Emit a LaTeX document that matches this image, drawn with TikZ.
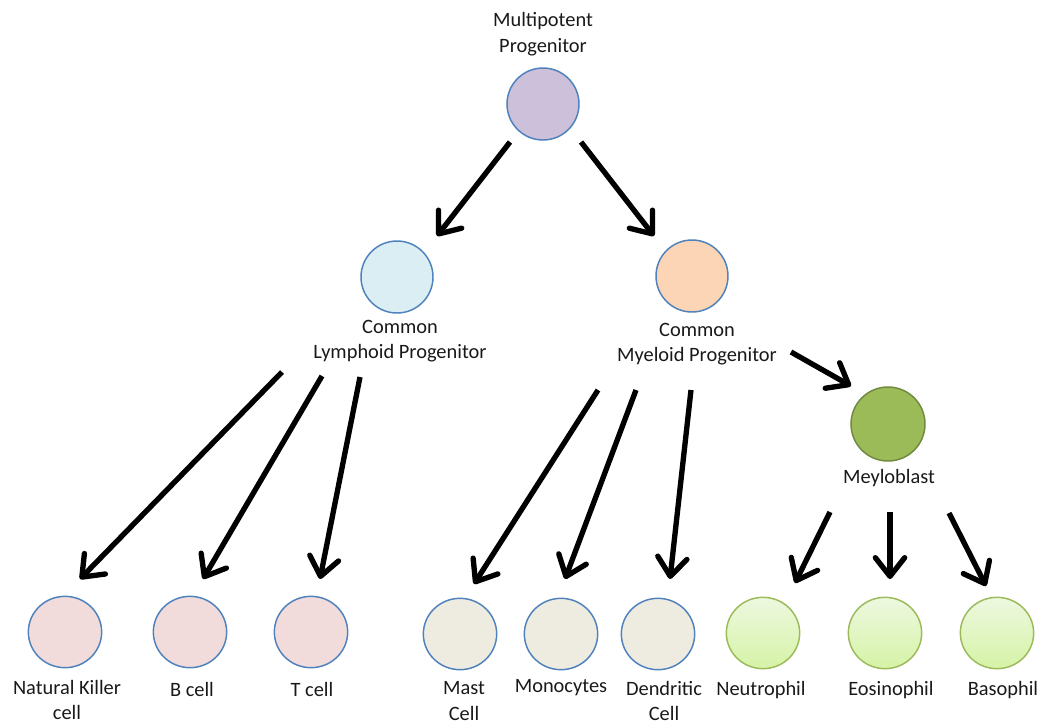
\documentclass[tikz,border=0pt]{standalone}
\usepackage{fontspec}
\setmainfont{Carlito}
\usetikzlibrary{arrows.meta,shapes.geometric}
\definecolor{bordblue}{HTML}{4F81BD}
\definecolor{purp}{HTML}{CCC0DA}
\definecolor{lblue}{HTML}{DBEEF4}
\definecolor{lorange}{HTML}{FBD5B5}
\definecolor{mgreen}{HTML}{9BBB59}
\definecolor{dgreen}{HTML}{71893F}
\definecolor{lpink}{HTML}{F2DCDB}
\definecolor{lbeige}{HTML}{EEECE1}
\definecolor{gtop}{HTML}{EEF8E0}
\definecolor{gbot}{HTML}{D5F3A6}
\tikzset{
  cell/.style={ellipse, draw=bordblue, line width=1.1pt, minimum width=55pt, minimum height=53.5pt, inner sep=0pt},
  greencell/.style={cell, draw=mgreen, top color=gtop, bottom color=gbot},
  lbl/.style={font=\fontsize{15.3pt}{19pt}\selectfont, align=center, inner sep=0pt, text=black!90},
  arr/.style={line width=4pt, -{Straight Barb[round, length=14pt, width=22pt]}}
}
\begin{document}
\begin{tikzpicture}[x=0.75pt, y=-0.75pt]
\useasboundingbox (0,0) rectangle (1046,726);
% circles
\node[cell, fill=purp, minimum width=54pt, minimum height=54pt] (multi) at (543,104) {};
\node[cell, fill=lblue, minimum width=54pt, minimum height=54pt] (clp) at (397,277) {};
\node[cell, fill=lorange, minimum width=54pt, minimum height=54pt] (cmp) at (692,276) {};
\node[cell, fill=mgreen, draw=dgreen, minimum width=55.5pt, minimum height=55.5pt] (mb) at (888,424) {};
\node[cell, fill=lpink] (nk) at (65,632) {};
\node[cell, fill=lpink] (bc) at (190,632) {};
\node[cell, fill=lpink] (tc) at (311,632) {};
\node[cell, fill=lbeige] (mast) at (460,634) {};
\node[cell, fill=lbeige] (mono) at (561,634) {};
\node[cell, fill=lbeige] (dend) at (658,634) {};
\node[greencell] (neut) at (763,633) {};
\node[greencell] (eos) at (885,633) {};
\node[greencell] (baso) at (997,633) {};
% labels
\node[lbl] (multil) at (543,34) {Multipotent\\Progenitor};
\node[lbl] (clpl) at (400,341) {Common\\Lymphoid Progenitor};
\node[lbl] (cmpl) at (697,344) {Common\\Myeloid Progenitor};
\node[lbl] (mbl) at (889,478) {Meyloblast};
\node[lbl] (nkl) at (67,700) {Natural Killer\\cell};
\node[lbl] (bcl) at (192,689) {B cell};
\node[lbl] (tcl) at (312,689) {T cell};
\node[lbl] (mastl) at (464,701) {Mast\\Cell};
\node[lbl] (monol) at (561,688) {Monocytes};
\node[lbl] (dendl) at (664,701) {Dendritic\\Cell};
\node[lbl] (neutl) at (761,690) {Neutrophil};
\node[lbl] (eosl) at (891,690) {Eosinophil};
\node[lbl] (basol) at (1003,690) {Basophil};
% arrow end points
\coordinate (a1s) at (510,142); \coordinate (a1e) at (437,236);
\coordinate (a2s) at (581,142); \coordinate (a2e) at (654,236);
\coordinate (b1s) at (282,372); \coordinate (b1e) at (80,579);
\coordinate (b2s) at (322,376); \coordinate (b2e) at (203,579);
\coordinate (b3s) at (360,377); \coordinate (b3e) at (320,579);
\coordinate (c1s) at (598,390); \coordinate (c1e) at (474,584);
\coordinate (c2s) at (636,390); \coordinate (c2e) at (565,579);
\coordinate (c3s) at (691,390); \coordinate (c3e) at (670,579);
\coordinate (c4s) at (791,352); \coordinate (c4e) at (851,386);
\coordinate (d1s) at (830,512); \coordinate (d1e) at (795,583);
\coordinate (d2s) at (890,512); \coordinate (d2e) at (890,579);
\coordinate (d3s) at (949,513); \coordinate (d3e) at (986,586);
\foreach \s/\e in {a1s/a1e,a2s/a2e,b1s/b1e,b2s/b2e,b3s/b3e,c1s/c1e,c2s/c2e,c3s/c3e,c4s/c4e,d1s/d1e,d2s/d2e,d3s/d3e}
  \draw[arr] (\s) -- (\e);
\end{tikzpicture}
\end{document}
